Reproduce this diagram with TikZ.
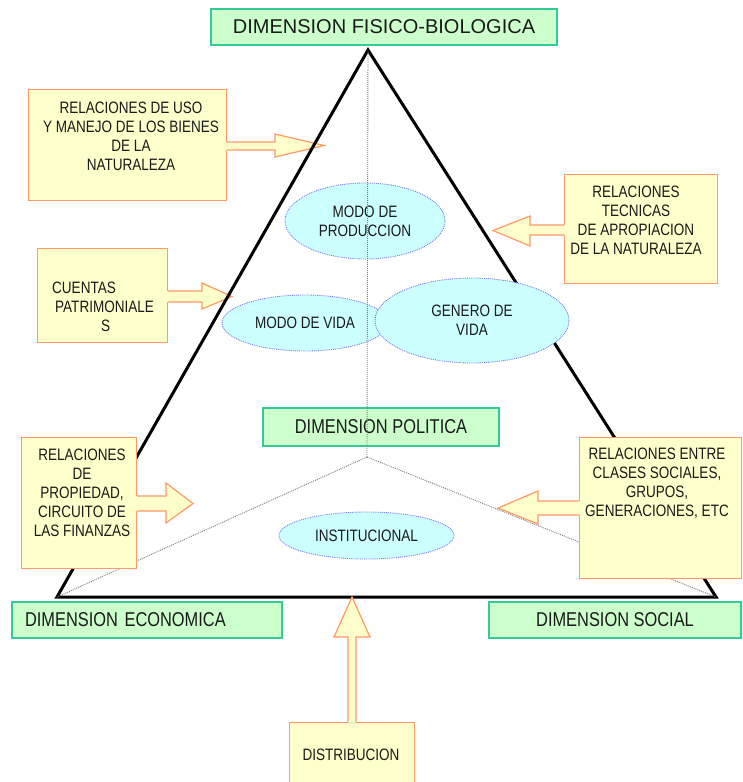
\documentclass[tikz,border=0pt]{standalone}
\usepackage{fontspec}
\setmainfont{Liberation Sans}
\newfontfamily\narrowfont{Liberation Sans}[FakeStretch=0.82]
\usetikzlibrary{shapes.geometric}
\definecolor{gfill}{HTML}{CCFFCC}
\definecolor{gline}{HTML}{33CC99}
\definecolor{yfill}{HTML}{FFFFCC}
\definecolor{yline}{HTML}{FF9966}
\definecolor{efill}{HTML}{CCFFFF}
\definecolor{eline}{HTML}{7777EE}
\definecolor{txtc}{HTML}{1A1A1A}
\definecolor{dotc}{HTML}{808080}
\tikzset{
  gbox/.style={draw=gline, fill=gfill, line width=1.5, inner sep=0, text=txtc,
     font=\narrowfont\fontsize{20}{22}\selectfont},
  ybox/.style={draw=yline, fill=yfill, line width=1.2, inner sep=0, anchor=north west},
  ytext/.style={font=\narrowfont\fontsize{16.5}{19}\selectfont, align=center, inner sep=0, text=txtc},
  ell/.style={ellipse, draw=eline, fill=efill, line width=0.9, densely dotted, inner sep=0,
     font=\narrowfont\fontsize{16.5}{19}\selectfont, align=center, text=txtc},
  dotline/.style={draw=dotc, line width=0.9, dash pattern=on 1pt off 1pt},
  yfillst/.style={fill=yfill},
  ylinest/.style={draw=yline, line width=1.2, line join=miter},
}
\begin{document}
\begin{tikzpicture}[x=1pt,y=-1pt]
\fill[white] (0,0) rectangle (742,782);
\useasboundingbox (0,0) rectangle (742,782);

% upper left boxes and arrows (below triangle)
\node[ybox, minimum width=198, minimum height=111] (b1) at (28,89) {};
\node[ytext, anchor=north] (t1) at (131,101.3) {RELACIONES DE USO\\Y MANEJO DE LOS BIENES\\DE LA\\NATURALEZA};
\fill[yfillst] (225,142) -- (275,142) -- (275,134) -- (324,145.5) -- (275,157) -- (275,150) -- (225,150) -- cycle;
\draw[ylinest] (b1.east |- 0,142) -- (275,142) -- (275,134) -- (324,145.5) -- (275,157) -- (275,150) -- (b1.east |- 0,150);

\node[ybox, minimum width=130, minimum height=94] (b2) at (37,248) {};
\node[ytext, align=left, anchor=north west] (t2) at (52,281.6) {CUENTAS\\\hspace*{3pt}PATRIMONIALE\\\hspace*{49pt}S};
\fill[yfillst] (166,291) -- (202,291) -- (202,283) -- (232,296.5) -- (202,309) -- (202,302) -- (166,302) -- cycle;
\draw[ylinest] (b2.east |- 0,291) -- (202,291) -- (202,283) -- (232,296.5) -- (202,309) -- (202,302) -- (b2.east |- 0,302);

% triangle
\coordinate (apex) at (368,50);
\coordinate (bl) at (57,597);
\coordinate (br) at (716,597);
\coordinate (ctr) at (367,457);
\draw[line width=3, line join=miter] (apex) -- (bl) -- (br) -- cycle;

% ellipses
\node[ell, minimum width=160, minimum height=76] (e1) at (365,221) {MODO DE\\PRODUCCION};
\node[ell, minimum width=166, minimum height=56] (e2) at (305,323) {MODO DE VIDA};
\node[ell, minimum width=194, minimum height=85] (e3) at (472,320.5) {GENERO DE\\VIDA};
\node[ell, minimum width=175, minimum height=47] (e4) at (366.5,535.5) {INSTITUCIONAL};

% green boxes
\node[gbox, font=\fontsize{20}{22}\selectfont, minimum width=346, minimum height=36] (g1) at (384,27) {DIMENSION FISICO-BIOLOGICA};
\node[gbox, minimum width=236, minimum height=38] (g2) at (381,427) {DIMENSION POLITICA};
\node[gbox, minimum width=270, minimum height=36, text width=244, align=left, inner xsep=13] (g3) at (147,620) {DIMENSION ECONOMICA};
\node[gbox, minimum width=252, minimum height=36] (g4) at (615,620) {DIMENSION SOCIAL};

% dotted lines
\draw[dotline] (apex) -- (ctr);
\draw[dotline] (ctr) -- (bl);
\draw[dotline] (ctr) -- (br);

% remaining boxes and arrows
\node[ybox, minimum width=153, minimum height=109] (b3) at (564,174) {};
\node[ytext, anchor=north] (t3) at (636,185.6) {RELACIONES\\TECNICAS\\DE APROPIACION\\DE LA NATURALEZA};
\fill[yfillst] (565,225) -- (530,225) -- (530,216) -- (493,230.5) -- (530,246) -- (530,235) -- (565,235) -- cycle;
\draw[ylinest] (b3.west |- 0,225) -- (530,225) -- (530,216) -- (493,230.5) -- (530,246) -- (530,235) -- (b3.west |- 0,235);

\node[ybox, minimum width=115, minimum height=131] (b4) at (21,437) {};
\node[ytext, anchor=north] (t4) at (82,448.6) {RELACIONES\\DE\\PROPIEDAD,\\CIRCUITO DE\\LAS FINANZAS};
\fill[yfillst] (135,496) -- (166,496) -- (166,483) -- (193,503.5) -- (166,523) -- (166,511) -- (135,511) -- cycle;
\draw[ylinest] (b4.east |- 0,496) -- (166,496) -- (166,483) -- (193,503.5) -- (166,523) -- (166,511) -- (b4.east |- 0,511);

\node[ybox, minimum width=162, minimum height=141] (b5) at (579,437) {};
\node[ytext, anchor=north] (t5) at (657,447.6) {RELACIONES ENTRE\\CLASES SOCIALES,\\GRUPOS,\\GENERACIONES, ETC};
\fill[yfillst] (580,501) -- (538,501) -- (538,491) -- (498,508) -- (538,524) -- (538,515) -- (580,515) -- cycle;
\draw[ylinest] (b5.west |- 0,501) -- (538,501) -- (538,491) -- (498,508) -- (538,524) -- (538,515) -- (b5.west |- 0,515);

\node[ybox, minimum width=125, minimum height=70] (b6) at (289,722) {};
\node[ytext, anchor=base] (t6) at (351,760) {DISTRIBUCION};
\fill[yfillst] (348,723) -- (348,637) -- (334,637) -- (352,597) -- (370,637) -- (356,637) -- (356,723) -- cycle;
\draw[ylinest] (348,722) -- (348,637) -- (334,637) -- (352,597) -- (370,637) -- (356,637) -- (356,722);
\end{tikzpicture}
\end{document}
